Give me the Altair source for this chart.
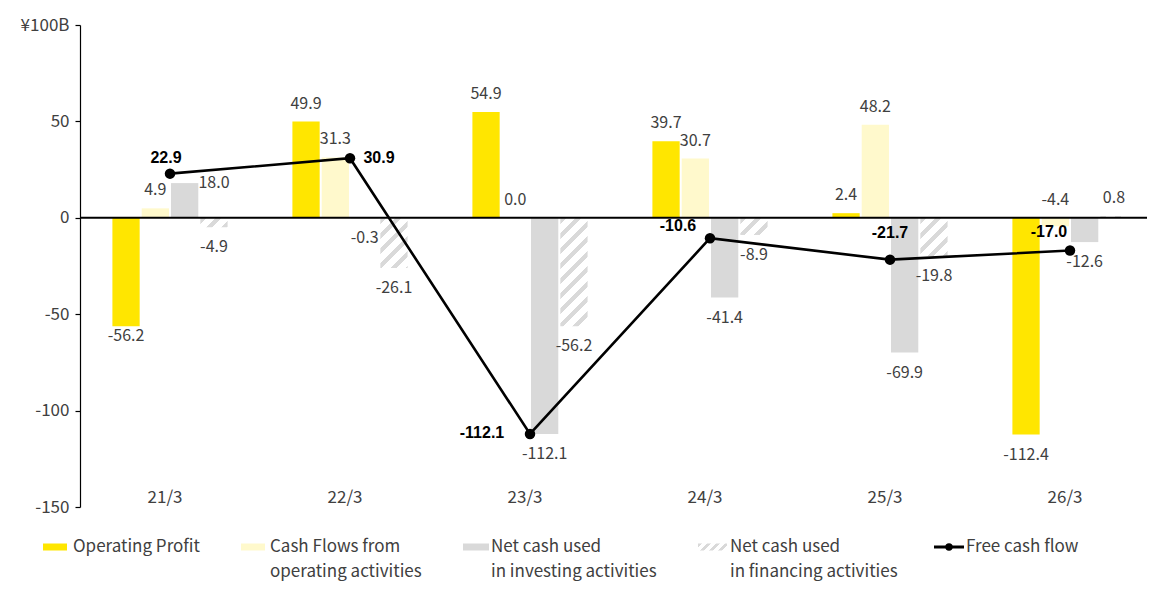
import altair as alt
import pandas as pd

# ---------------- data ----------------
categories = ["21/3", "22/3", "23/3", "24/3", "25/3", "26/3"]
series_keys = ["op", "cfo", "inv", "fin"]
operating_profit = [-56.2, 49.9, 54.9, 39.7, 2.4, -112.4]
cf_operating = [4.9, 31.3, 0.0, 30.7, 48.2, -4.4]
cf_investing = [18.0, -0.3, -112.1, -41.4, -69.9, -12.6]
cf_financing = [-4.9, -26.1, -56.2, -8.9, -19.8, 0.8]
free_cash_flow = [22.9, 30.9, -112.1, -10.6, -21.7, -17.0]
y_ticks = [-150, -100, -50, 0, 50, 100]

legend_lines = [
    ["Operating Profit"],
    ["Cash Flows from", "operating activities"],
    ["Net cash used", "in investing activities"],
    ["Net cash used", "in financing activities"],
    ["Free cash flow"],
]

# ---------------- style / layout ----------------
YELLOW = "#FFE600"
LIGHT = "#FFF9CC"
GRAY = "#D9D9D9"
TEXT = "#404040"
FONT = "Noto Sans CJK JP"
BOLD_FONT = "Liberation Sans"

W, H = 1080, 482
Y_MIN, Y_MAX = -150, 100
PAD_IN, PAD_OUT = 0.36, 0.18
SUB_PAD = 0.07
step = W / (len(categories) - PAD_IN + 2 * PAD_OUT)
group_bw = step * (1 - PAD_IN)
sub_step = group_bw / (len(series_keys) - SUB_PAD)
sub_bw = sub_step * (1 - SUB_PAD)
ppu = H / (Y_MAX - Y_MIN)

# label placement tweaks (style, not data)
bar_label_moves = {("21/3", "inv"): ("value", sub_step, 0),
                   ("26/3", "cfo"): ("zero", 0, -18),
                   ("21/3", "op"): ("value", 0, 10)}
fcf_label_moves = {"21/3": (-4, -16), "22/3": (29, 0), "23/3": (-48, -1),
                   "24/3": (-32, -12), "25/3": (0, -27), "26/3": (-21, -19)}

# ---------------- tables ----------------
rows = []
for key, vals in zip(series_keys, [operating_profit, cf_operating, cf_investing, cf_financing]):
    for c, v in zip(categories, vals):
        rows.append({"cat": c, "key": key, "value": v, "label": f"{v:.1f}"})
bars = pd.DataFrame(rows)
fcf = pd.DataFrame({"cat": categories, "value": free_cash_flow,
                    "label": [f"{v:.1f}" for v in free_cash_flow]})
cats_df = pd.DataFrame({"cat": categories})

xenc = alt.X("cat:N", scale=alt.Scale(domain=categories, paddingInner=PAD_IN,
                                      paddingOuter=PAD_OUT), axis=None)
xoff = alt.XOffset("key:N", scale=alt.Scale(domain=series_keys, paddingInner=SUB_PAD, paddingOuter=0))
yscale = alt.Scale(domain=[Y_MIN, Y_MAX], nice=False, zero=False)
yenc = alt.Y("value:Q", scale=yscale,
             axis=alt.Axis(values=y_ticks, grid=False, title=None,
                           labelExpr="datum.value == 100 ? '¥100B' : toString(datum.value)",
                           labelFont=FONT, labelFontSize=17, labelColor=TEXT,
                           domainColor="black", tickColor="black", tickSize=5,
                           labelPadding=6, domainWidth=1.2, tickWidth=1.2))
yq = alt.Y("value:Q", scale=yscale)

base_bars = alt.Chart(bars)

solid = base_bars.transform_filter("datum.key != 'fin'").mark_bar().encode(
    x=xenc, xOffset=xoff, y=yenc,
    color=alt.Color("key:N", scale=alt.Scale(domain=["op", "cfo", "inv"], range=[YELLOW, LIGHT, GRAY]), legend=None),
)


def hatch(v, period=15.0, gray_w=6.0, w=None):
    h = max(abs(v) * ppu, 0.5)
    w = sub_bw if w is None else w
    L = w + h
    k = L / (w * w + h * h)
    stops = []
    s = 0.0
    while s < L:
        a = s / L
        b = min((s + gray_w) / L, 1.0)
        c = min((s + period) / L, 1.0)
        stops += [{"offset": a, "color": GRAY}, {"offset": b, "color": GRAY},
                  {"offset": b, "color": "#FFFFFF"}, {"offset": c, "color": "#FFFFFF"}]
        s += period
    return {"gradient": "linear", "x1": 0, "y1": 0, "x2": w * k, "y2": h * k, "stops": stops}


fin_layers = []
for c, v in zip(categories, cf_financing):
    fin_layers.append(
        base_bars.transform_filter(f"datum.key == 'fin' && datum.cat == '{c}'").mark_bar().encode(
            x=xenc, xOffset=xoff, y=yq, fill=alt.value(hatch(v)),
        )
    )

moved_expr = " || ".join(f"(datum.cat == '{c}' && datum.key == '{k}')" for (c, k) in bar_label_moves)
label_kw = dict(font=FONT, fontSize=16, color=TEXT, baseline="middle")
pos_labels = base_bars.transform_filter(f"datum.value >= 0 && !({moved_expr})").mark_text(
    dy=-18, **label_kw).encode(x=xenc, xOffset=xoff, y=yq, text="label:N")
neg_labels = base_bars.transform_filter(f"datum.value < 0 && !({moved_expr})").mark_text(
    dy=20, **label_kw).encode(x=xenc, xOffset=xoff, y=yq, text="label:N")
moved_labels = []
for (c, k), (anchor, ddx, ddy) in bar_label_moves.items():
    ch = base_bars.transform_filter(f"datum.cat == '{c}' && datum.key == '{k}'")
    if anchor == "zero":
        ch = ch.transform_calculate(anchor_y="0")
        yy = alt.Y("anchor_y:Q", scale=yscale)
    else:
        yy = yq
    moved_labels.append(ch.mark_text(dx=ddx, dy=ddy, **label_kw).encode(
        x=xenc, xOffset=xoff, y=yy, text="label:N"))

zero_line = alt.Chart(pd.DataFrame({"z": [0]})).mark_rule(color="black", strokeWidth=2).encode(
    y=alt.Y("z:Q", scale=yscale)
)

fcf_base = alt.Chart(fcf)
fcf_line = fcf_base.mark_line(color="black", strokeWidth=2.6).encode(x=xenc, y=yq)
fcf_pts = fcf_base.mark_circle(color="black", size=110, opacity=1).encode(x=xenc, y=yq)

fcf_labels = []
for c in categories:
    ddx, ddy = fcf_label_moves[c]
    fcf_labels.append(fcf_base.transform_filter(f"datum.cat == '{c}'").mark_text(
        font=BOLD_FONT, fontSize=16, fontWeight="bold", color="black", baseline="middle",
        dx=ddx, dy=ddy).encode(x=xenc, y=yq, text="label:N"))

cat_labels = alt.Chart(cats_df).mark_text(font=FONT, fontSize=17, color=TEXT, baseline="middle", dx=-5).encode(
    x=xenc, y=alt.value(H - 9), text="cat:N")

# ---------------- legend (manual) ----------------
leg_sym_x = [-37, 161, 383, 618, 854]   # symbol left edges relative to plot
leg_sym_w = [24, 24, 26, 29, 30]
leg_text_x = [-7, 190, 411, 650, 886]
leg_cy = 522          # centre of first legend row, relative to plot top
leg_layers = []
one = alt.Chart(pd.DataFrame({"a": [0]}))
sym_fills = [YELLOW, LIGHT, GRAY, hatch(-3.6, period=9.0, gray_w=4.0, w=29)]
for i in range(4):
    leg_layers.append(one.mark_rect().encode(
        x=alt.value(leg_sym_x[i]), x2=alt.value(leg_sym_x[i] + leg_sym_w[i]),
        y=alt.value(leg_cy - 3.5), y2=alt.value(leg_cy + 3.5),
        fill=alt.value(sym_fills[i])))
leg_layers.append(one.mark_rule(color="black", strokeWidth=3).encode(
    x=alt.value(leg_sym_x[4]), x2=alt.value(leg_sym_x[4] + leg_sym_w[4]), y=alt.value(leg_cy)))
leg_layers.append(one.mark_circle(color="black", size=55, opacity=1).encode(
    x=alt.value(leg_sym_x[4] + leg_sym_w[4] / 2), y=alt.value(leg_cy)))
for i, lines in enumerate(legend_lines):
    leg_layers.append(one.mark_text(font=FONT, fontSize=17, color=TEXT, align="left",
                                    baseline="middle", lineHeight=25).encode(
        x=alt.value(leg_text_x[i]), y=alt.value(leg_cy),
        text=alt.value(lines)))

chart = alt.layer(
    solid, *fin_layers, zero_line, pos_labels, neg_labels, *moved_labels,
    fcf_line, fcf_pts, *fcf_labels, cat_labels, *leg_layers
).properties(
    width=W, height=H,
    padding={"left": 12, "top": 8, "right": -14, "bottom": 1},
).configure(background="white").configure_view(stroke=None)

chart.save("out.html", embed_options={"renderer": "svg", "actions": False})
